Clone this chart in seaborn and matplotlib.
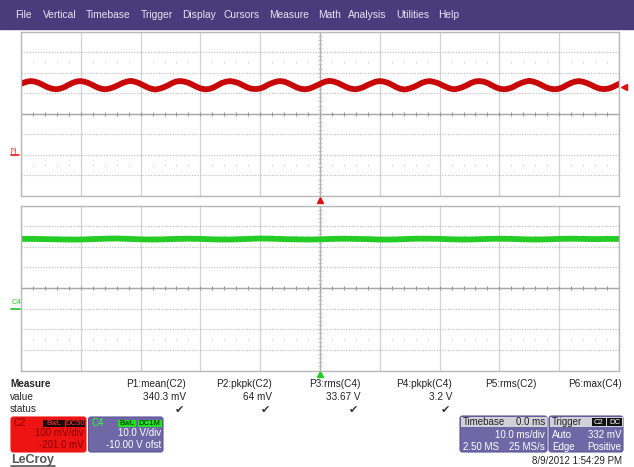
import numpy as np
import matplotlib
matplotlib.use("Agg")
import matplotlib.pyplot as plt
import matplotlib.transforms as mtrans
from matplotlib.patches import Rectangle, FancyBboxPatch
import seaborn as sns

sns.set_style("white")
plt.rcParams['font.family'] = ['Liberation Sans', 'DejaVu Sans']

# ---------------- data ----------------
menu_items = ["File", "Vertical", "Timebase", "Trigger", "Display", "Cursors",
              "Measure", "Math", "Analysis", "Utilities", "Help"]

# C2 trace (mV), sampled every 100/144 ms starting at -50.42 ms
c2_start_ms = -50.417
c2_step_ms = 100.0 / 144.0
c2_mv = [
    340, 350, 357, 360, 357, 350, 340, 330, 323, 320, 323, 330,
    341, 351, 358, 360, 356, 349, 339, 329, 322, 320, 324, 331,
    340, 350, 357, 361, 357, 350, 340, 330, 322, 319, 323, 330,
    339, 350, 358, 360, 357, 351, 341, 331, 323, 320, 322, 329,
    340, 351, 357, 360, 356, 350, 340, 330, 323, 321, 323, 330,
    341, 350, 357, 360, 357, 349, 339, 329, 322, 320, 323, 331,
    340, 350, 358, 361, 357, 350, 340, 330, 323, 320, 323, 330,
    340, 349, 357, 360, 357, 351, 341, 330, 322, 319, 323, 330,
    339, 350, 357, 360, 356, 350, 340, 331, 323, 320, 324, 331,
    340, 351, 358, 360, 357, 350, 339, 329, 322, 320, 323, 330,
    341, 350, 357, 361, 357, 350, 340, 330, 323, 320, 322, 329,
    340, 350, 357, 360, 356, 349, 340, 330, 323, 321, 323, 330,
    340, 350, 357,
]

# C4 trace (V), sampled every 2 ms from -50 ms
c4_start_ms = -50.0
c4_step_ms = 2.0
c4_v = [33.8, 33.8, 33.7, 33.6, 33.5, 33.5, 33.7, 33.9, 34.0, 33.8,
        33.6, 33.5, 33.6, 33.8, 33.9, 33.8, 33.6, 33.5, 33.6, 33.8,
        34.0, 33.9, 33.7, 33.6, 33.5, 33.6, 33.8, 33.9, 33.8, 33.7,
        33.5, 33.5, 33.7, 33.9, 33.9, 33.8, 33.6, 33.5, 33.6, 33.8,
        33.9, 33.8, 33.6, 33.5, 33.6, 33.8, 33.9, 33.8, 33.7, 33.8, 33.8]

c2_vdiv, c2_offset = 100.0, -201.0     # mV/div, mV
c4_vdiv, c4_offset = 10.0, -10.0       # V/div, V
timebase_ms = 10.0
trigger_level_mv = 332.0

meas_names = ["P1:mean(C2)", "P2:pkpk(C2)", "P3:rms(C4)", "P4:pkpk(C4)",
              "P5:rms(C2)", "P6:max(C4)"]
meas_values = ["340.3 mV", "64 mV", "33.67 V", "3.2 V", "", ""]
meas_status = [True, True, True, True, False, False]

# ---------------- figure ----------------
W, H = 634, 467
fig = plt.figure(figsize=(W / 100, H / 100), dpi=100)
fig.patch.set_facecolor("white")


def axes_px(x0, y0, x1, y1):
    return fig.add_axes([x0 / W, 1 - y1 / H, (x1 - x0) / W, (y1 - y0) / H])


RED = "#c80808"
GREEN = "#25cc25"
PURPLE = "#6f67a6"


def scope_panel(ax, t, v, center, vdiv, color):
    sns.lineplot(x=t, y=v, ax=ax, color=color, linewidth=4.2, estimator=None,
                 sort=False, solid_capstyle="butt")
    ax.set_xlim(-5 * timebase_ms, 5 * timebase_ms)
    ax.set_ylim(center - 4 * vdiv, center + 4 * vdiv)
    ax.set_xticks(np.arange(-50, 51, 10))
    ax.set_yticks(center + vdiv * np.arange(-4, 5))
    ax.tick_params(length=0, labelbottom=False, labelleft=False)
    ax.set_xlabel("")
    ax.set_ylabel("")
    ax.xaxis.grid(True, color="#d2d2d2", lw=0.9, ls="-")
    ax.yaxis.grid(True, color="#c4c4c4", lw=0.9, ls=(0, (1, 1.2)))
    ax.set_axisbelow(True)
    for s in ax.spines.values():
        s.set_color("#b8b8b8")
        s.set_linewidth(1.0)
    # center cross lines with minor ticks
    ax.axvline(0, color="#b0b0b0", lw=1.0, zorder=1)
    ax.axhline(center, color="#a8a8a8", lw=1.0, zorder=1)
    mx = np.arange(-50, 51, 2)
    ax.plot(mx, np.full(mx.size, center), ls="none", marker="|", ms=3.5,
            mew=0.8, color="#999999", zorder=1)
    my = center + vdiv * np.arange(-4, 4.01, 0.2)
    ax.plot(np.zeros(my.size), my, ls="none", marker="_", ms=2.5,
            mew=0.6, color="#bdbdbd", zorder=1)
    for k in (-2.5, 2.5):
        ax.plot(mx, np.full(mx.size, center + k * vdiv), ls="none",
                marker="|", ms=2, mew=0.6, color="#d0d0d0", zorder=1)


# top panel (C2)
ax1 = axes_px(21, 31.5, 619, 196)
t_c2 = c2_start_ms + c2_step_ms * np.arange(len(c2_mv))
c2_center = -c2_offset
scope_panel(ax1, t_c2, np.array(c2_mv), c2_center, c2_vdiv, RED)
tr = mtrans.blended_transform_factory(ax1.transData, ax1.transAxes)
ax1.plot([0], [-0.026], transform=tr, marker="^", ms=5, color="#e01010",
         clip_on=False, ls="none")
tr2 = mtrans.blended_transform_factory(ax1.transAxes, ax1.transData)
ax1.plot([1.009], [trigger_level_mv], transform=tr2, marker="<", ms=5,
         color="#e01010", clip_on=False, ls="none")

# bottom panel (C4)
ax2 = axes_px(21, 205.5, 619, 370.5)
t_c4 = c4_start_ms + c4_step_ms * np.arange(len(c4_v))
c4_center = -c4_offset
scope_panel(ax2, t_c4, np.array(c4_v), c4_center, c4_vdiv, GREEN)
tr3 = mtrans.blended_transform_factory(ax2.transData, ax2.transAxes)
ax2.plot([0], [-0.024], transform=tr3, marker="^", ms=5, color="#20d020",
         clip_on=False, ls="none")

# ---------------- overlay (pixel space) ----------------
ov = fig.add_axes([0, 0, 1, 1], facecolor="none")
ov.set_xlim(0, W)
ov.set_ylim(H, 0)
ov.axis("off")

# menu bar
ov.add_patch(Rectangle((0, 0), W, 29, color="#4a3b7c", zorder=0))
menu_x = [15, 43, 86, 141, 182, 223, 269, 318, 348, 396, 438]
for name, x in zip(menu_items, menu_x):
    ov.text(x, 15, name, color="#e6e4f2", fontsize=7.4, va="center", ha="left")

# channel ground labels
ov.text(15, 150, "C2", color="#e02020", fontsize=5.5, rotation=90,
        va="center", ha="center")
ov.plot([11, 19], [155, 155], color="#e02020", lw=1.2)
ov.text(16, 302, "C4", color="#22c022", fontsize=5.5, va="center", ha="center")
ov.plot([11, 20], [308.5, 308.5], color="#22c022", lw=1.2)

# measure table
FS = 7.2
ov.text(10, 384, "Measure", fontsize=FS, fontweight="bold", va="center")
ov.text(10, 397, "value", fontsize=FS, va="center")
ov.text(10, 409, "status", fontsize=FS, va="center")
meas_right = [186, 272, 360, 452, 536, 622]
for name, val, ok, xr in zip(meas_names, meas_values, meas_status, meas_right):
    ov.text(xr, 384, name, fontsize=FS, ha="right", va="center", color="#222")
    if val:
        ov.text(xr, 397, val, fontsize=FS, ha="right", va="center", color="#222")
    if ok:
        ov.text(xr - 2, 409.5, "\u2714", fontsize=8, ha="right", va="center",
                color="#333", family=["DejaVu Sans"])


def rbox(x0, y0, x1, y1, fc, ec=None):
    ov.add_patch(FancyBboxPatch((x0, y0), x1 - x0, y1 - y0,
                                boxstyle="round,pad=0,rounding_size=2.5",
                                fc=fc, ec=ec or fc, lw=0.8, zorder=2))


def tag(x0, x1, y0, y1, txt, fc, tc):
    ov.add_patch(Rectangle((x0, y0), x1 - x0, y1 - y0, fc=fc, ec="none", zorder=3))
    ov.text((x0 + x1) / 2, (y0 + y1) / 2 + 0.3, txt, fontsize=5.6, color=tc,
            ha="center", va="center", zorder=4)


BFS = 7.0
# C2 box
rbox(11, 417, 86, 452, "#ee1414")
ov.text(14, 423, "C2", fontsize=BFS, color="#8a0000", va="center", zorder=4)
tag(43, 64.5, 419.5, 427, "BwL", "#1a0a0a", "#ff3030")
tag(66, 85, 419.5, 427, "DC50", "#1a0a0a", "#ff3030")
ov.text(84, 433.5, "100 mV/div", fontsize=BFS, color="#8a0000", ha="right",
        va="center", zorder=4)
ov.text(84, 444.5, "-201.0 mV", fontsize=BFS, color="#8a0000", ha="right",
        va="center", zorder=4)

# C4 box
rbox(88.5, 417, 163, 452, PURPLE, "#5d5594")
ov.text(91.5, 423, "C4", fontsize=BFS, color="#30ff30", va="center", zorder=4)
tag(118, 136, 419.5, 427, "BwL", "#20e020", "#0a200a")
tag(137.5, 161.5, 419.5, 427, "DC1M", "#20e020", "#0a200a")
ov.text(161, 433.5, "10.0 V/div", fontsize=BFS, color="white", ha="right",
        va="center", zorder=4)
ov.text(161, 444.5, "-10.00 V ofst", fontsize=BFS, color="white", ha="right",
        va="center", zorder=4)

# Timebase box
rbox(460, 416, 547, 452, PURPLE, "#5d5594")
ov.add_patch(Rectangle((460.5, 416.5), 86, 10.5, fc="#d2d1da", ec="none", zorder=3))
ov.text(463, 422, "Timebase", fontsize=BFS, color="#222", va="center", zorder=4)
ov.text(545, 422, "0.0 ms", fontsize=BFS, color="#222", ha="right", va="center", zorder=4)
ov.text(545, 435.5, "10.0 ms/div", fontsize=BFS, color="white", ha="right",
        va="center", zorder=4)
ov.text(463, 446.5, "2.50 MS", fontsize=BFS, color="white", va="center", zorder=4)
ov.text(545, 446.5, "25 MS/s", fontsize=BFS, color="white", ha="right",
        va="center", zorder=4)

# Trigger box
rbox(549, 416, 623, 452, PURPLE, "#5d5594")
ov.add_patch(Rectangle((549.5, 416.5), 73, 10.5, fc="#d2d1da", ec="none", zorder=3))
ov.text(552, 422, "Trigger", fontsize=BFS, color="#222", va="center", zorder=4)
tag(592, 606, 418, 426, "C2", "#111111", "white")
tag(607, 622, 418, 426, "DC", "#111111", "white")
ov.text(552, 435.5, "Auto", fontsize=BFS, color="white", va="center", zorder=4)
ov.text(621, 435.5, "332 mV", fontsize=BFS, color="white", ha="right",
        va="center", zorder=4)
ov.text(552, 446.5, "Edge", fontsize=BFS, color="white", va="center", zorder=4)
ov.text(621, 446.5, "Positive", fontsize=BFS, color="white", ha="right",
        va="center", zorder=4)

# footer
ov.text(622, 461.5, "8/9/2012 1:54:29 PM", fontsize=BFS, color="#222",
        ha="right", va="center")
ov.text(11, 460, "LeCroy", fontsize=9, color="#555555", fontweight="bold",
        va="center")
ov.plot([11, 55], [466, 466], color="#555555", lw=1.2)

fig.savefig("out.png", dpi=100)
